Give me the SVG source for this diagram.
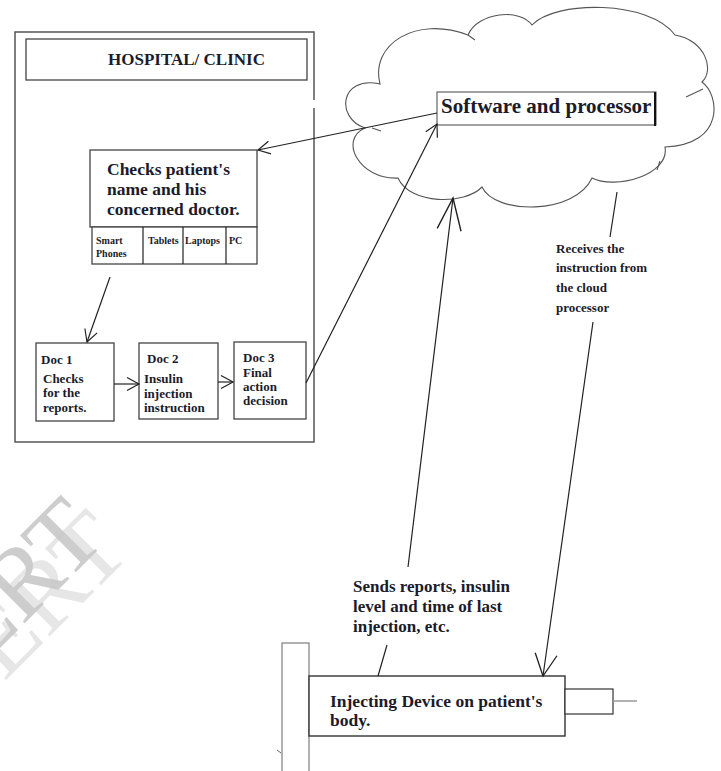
<svg xmlns="http://www.w3.org/2000/svg" width="721" height="771" viewBox="0 0 721 771">
<defs>
<style>
.t{font-family:"Liberation Serif","Times New Roman",serif;font-weight:bold;fill:#1b1b2b}
.box{fill:#fff;stroke:#444;stroke-width:1.3}
.frame{fill:none;stroke:#555;stroke-width:1.5}
.cl{fill:none;stroke:#555;stroke-width:1.1}
.ln{fill:none;stroke:#222;stroke-width:1.2}
.wm{font-family:"Liberation Serif","Times New Roman",serif;font-size:100px}
</style>
<marker id="arr" markerUnits="userSpaceOnUse" markerWidth="16" markerHeight="16" refX="12" refY="6.5" orient="auto" overflow="visible">
<path d="M0,0 L12,6.5 L0,13" fill="none" stroke="#222" stroke-width="1.2"/>
</marker>
<marker id="arrM" markerUnits="userSpaceOnUse" markerWidth="26" markerHeight="26" refX="22" refY="11" orient="auto" overflow="visible">
<path d="M0,0 L22,11 L0,22" fill="none" stroke="#222" stroke-width="1.3"/>
</marker>
<marker id="arrB" markerUnits="userSpaceOnUse" markerWidth="36" markerHeight="36" refX="32" refY="12" orient="auto" overflow="visible">
<path d="M0,0 L32,12 L0,24" fill="none" stroke="#222" stroke-width="1.4"/>
</marker>
</defs>
<rect width="721" height="771" fill="#fff"/>

<g id="watermark">
<text class="wm" transform="translate(4,682) rotate(-45)" fill="#e6e6e6">ERT</text>
<text class="wm" transform="translate(-21,669) rotate(-45)" fill="#c8c8c8" fill-opacity="0.9">ERT</text>
</g>

<g id="hospital">
<path class="frame" d="M314,108 V442 H15 V32 H314 V100"/>
<rect class="box" x="26" y="39" width="281" height="41"/>
<text class="t" x="108" y="65" font-size="17">HOSPITAL/ CLINIC</text>
</g>

<g id="checks">
<rect class="box" x="90" y="150" width="167" height="77"/>
<text class="t" x="107" y="175" font-size="17.5">Checks patient's</text>
<text class="t" x="107" y="195" font-size="17.5">name and his</text>
<text class="t" x="107" y="215" font-size="17.5">concerned doctor.</text>
</g>

<g id="devices">
<rect class="box" x="92" y="227" width="165" height="37"/>
<line class="ln" x1="143" y1="227" x2="143" y2="264"/>
<line class="ln" x1="183" y1="227" x2="183" y2="264"/>
<line class="ln" x1="226" y1="227" x2="226" y2="264"/>
<text class="t" x="96" y="244" font-size="10">Smart</text>
<text class="t" x="96" y="257" font-size="10">Phones</text>
<text class="t" x="148" y="244" font-size="10">Tablets</text>
<text class="t" x="185" y="244" font-size="10">Laptops</text>
<text class="t" x="229" y="244" font-size="10">PC</text>
</g>

<g id="doc1">
<rect class="box" x="36" y="343" width="78" height="78"/>
<text class="t" x="41" y="364" font-size="13">Doc 1</text>
<text class="t" x="43" y="383" font-size="13">Checks</text>
<text class="t" x="43" y="397" font-size="13">for the</text>
<text class="t" x="43" y="412" font-size="13">reports.</text>
</g>

<g id="doc2">
<rect class="box" x="139" y="343" width="79" height="76"/>
<text class="t" x="147" y="363" font-size="13">Doc 2</text>
<text class="t" x="144" y="383" font-size="13">Insulin</text>
<text class="t" x="144" y="398" font-size="13">injection</text>
<text class="t" x="144" y="412" font-size="13">instruction</text>
</g>

<g id="doc3">
<rect class="box" x="234" y="342" width="72" height="77"/>
<text class="t" x="243" y="362" font-size="13">Doc 3</text>
<text class="t" x="243" y="377" font-size="13">Final</text>
<text class="t" x="243" y="391" font-size="13">action</text>
<text class="t" x="243" y="405" font-size="13">decision</text>
</g>

<g id="cloud">
<path class="cl" d="M380,84 C370,45 415,15 468,35 C478,12 520,8 532,25 C555,0 650,0 675,35 C705,40 715,70 702,82 C720,95 725,145 665,147 C670,175 615,190 592,178 C575,215 495,215 482,187 C465,205 410,205 398,178 C360,180 338,140 365,128 C335,118 340,75 380,84 Z"/>
<path class="cl" d="M468,35 L475,40 M686,97 L703,89 M657,170 L660,161 M372,128 L381,131"/>
</g>

<g id="software">
<rect x="437" y="92" width="219" height="33" fill="#fff" stroke="#555" stroke-width="1.1"/>
<line x1="655" y1="92" x2="655" y2="126" stroke="#111" stroke-width="2"/>
<text class="t" x="441" y="113" font-size="21">Software and processor</text>
</g>

<g id="device">
<rect x="282" y="643" width="27" height="140" fill="#fff" stroke="#888" stroke-width="1.3"/>
<line x1="277" y1="750" x2="281" y2="753" stroke="#666" stroke-width="1"/>
<rect x="309" y="676" width="256" height="60" fill="#fff" stroke="#333" stroke-width="1.4"/>
<rect x="565" y="689" width="48" height="25" fill="#fff" stroke="#333" stroke-width="1.2"/>
<line x1="613" y1="701" x2="637" y2="701" stroke="#999" stroke-width="1.5"/>
<text class="t" x="330" y="707" font-size="17.5">Injecting Device on patient's</text>
<text class="t" x="330" y="726" font-size="17.5">body.</text>
</g>

<g id="labels">
<text class="t" x="353" y="592" font-size="17">Sends reports, insulin</text>
<text class="t" x="353" y="612" font-size="17">level and time of last</text>
<text class="t" x="353" y="632" font-size="17">injection, etc.</text>
<text class="t" x="556" y="253" font-size="13">Receives the</text>
<text class="t" x="556" y="272" font-size="13">instruction from</text>
<text class="t" x="556" y="292" font-size="13">the cloud</text>
<text class="t" x="556" y="312" font-size="13">processor</text>
</g>

<g id="connectors">
<line class="ln" x1="437" y1="113" x2="258" y2="150" marker-end="url(#arr)"/>
<line class="ln" x1="110" y1="277" x2="87" y2="342" marker-end="url(#arr)"/>
<line class="ln" x1="114" y1="384" x2="139" y2="384" marker-end="url(#arr)"/>
<line class="ln" x1="218" y1="382" x2="233" y2="382" marker-end="url(#arr)"/>
<line class="ln" x1="306" y1="383" x2="437" y2="124" marker-end="url(#arr)"/>
<path class="ln" d="M378,676 L387,645 M408,567 L453,198" stroke-width="1.4" marker-end="url(#arrB)"/>
<path class="ln" d="M617,192 L610,237 M593,322 L543,676" stroke-width="1.4" marker-end="url(#arrM)"/>
</g>
</svg>
